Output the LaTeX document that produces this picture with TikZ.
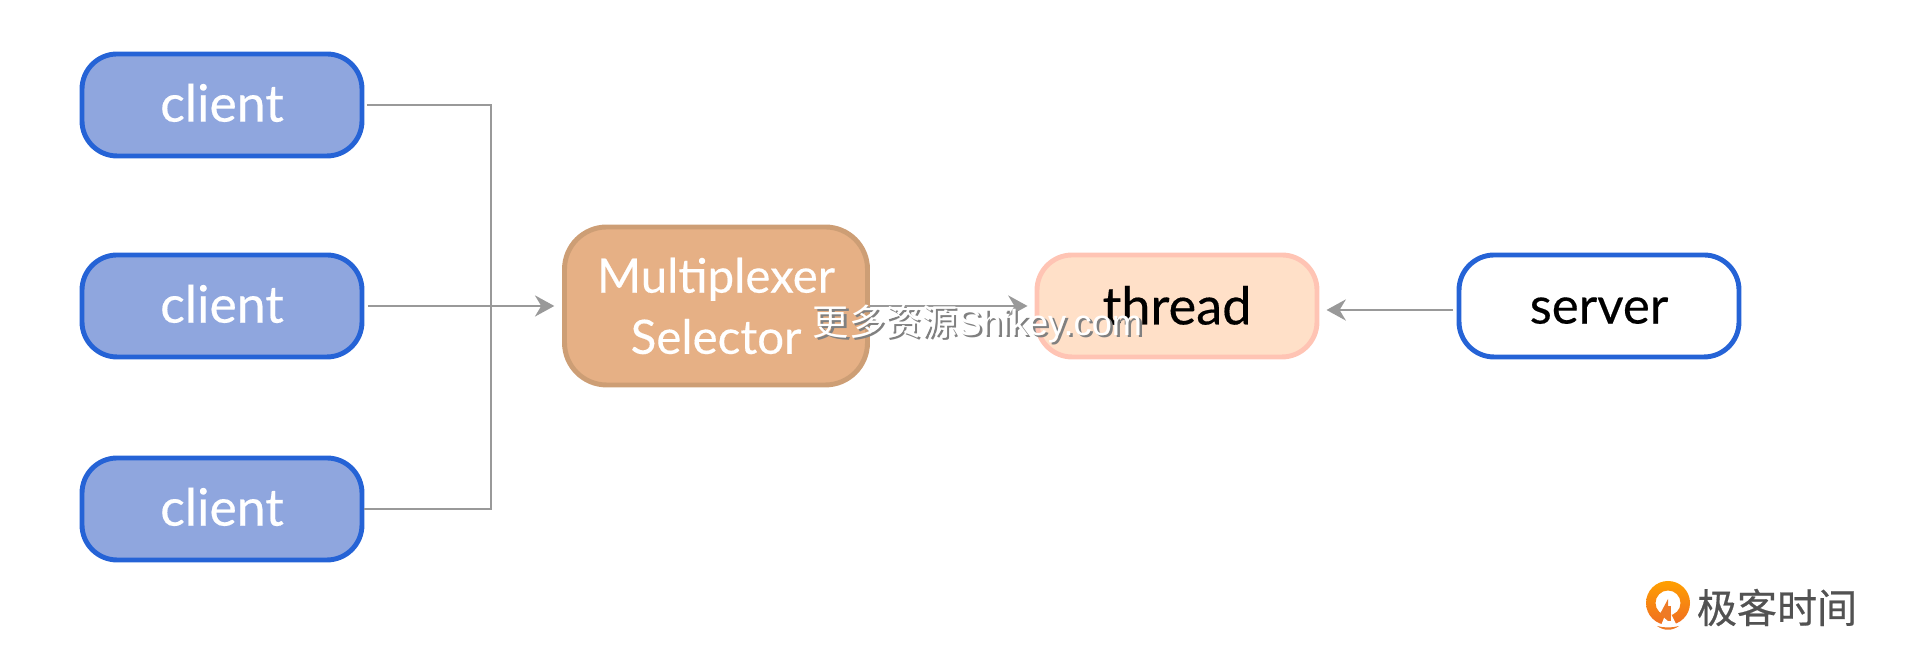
\documentclass[tikz,border=0pt]{standalone}
\usepackage{fontspec}
\setmainfont{Lato}
\newfontfamily\labelfont[FakeBold=0.3]{Lato}
\newfontfamily\cjkfont{Noto Sans CJK SC}
\newfontfamily\logofont[FakeBold=0.5]{Noto Sans CJK SC}
\newfontfamily\latinmark{Liberation Sans}
\usetikzlibrary{arrows.meta,positioning,calc}
\definecolor{clientblue}{HTML}{8FA6DE}
\definecolor{edgeblue}{HTML}{2563D6}
\definecolor{muxorange}{HTML}{E6B085}
\definecolor{muxedge}{HTML}{CD9E75}
\definecolor{threadpeach}{HTML}{FFE0C8}
\definecolor{threadedge}{HTML}{FFC4B4}
\definecolor{linkgray}{HTML}{999999}
\definecolor{logoorange}{HTML}{EE7A26}
\newcommand{\wmstring}{更多资源{\latinmark Shikey.com}}

\begin{document}
\begin{tikzpicture}[
  every node/.style={align=center},
  clientbox/.style={rectangle, rounded corners=10pt, draw=edgeblue, fill=clientblue,
                    line width=1.4pt, text=white, font=\labelfont\fontsize{14.7}{16}\selectfont,
                    minimum width=2.80cm, minimum height=1.02cm, inner sep=0pt,
                    text height=10.5pt, text depth=1pt},
  muxbox/.style={rectangle, rounded corners=12pt, draw=muxedge, fill=muxorange,
                 line width=1.4pt, text=white, font=\labelfont\fontsize{13.5}{17.4}\selectfont,
                 minimum width=3.03cm, minimum height=1.58cm, inner sep=0pt},
  threadbox/.style={rectangle, rounded corners=10pt, draw=threadedge, fill=threadpeach,
                    line width=1.4pt, text=black, font=\labelfont\fontsize{14.9}{16}\selectfont,
                    minimum width=2.80cm, minimum height=1.02cm, inner sep=0pt,
                    text height=11.5pt, text depth=1pt},
  serverbox/.style={rectangle, rounded corners=10pt, draw=edgeblue, fill=white,
                    line width=1.4pt, text=black, font=\labelfont\fontsize{14.5}{16}\selectfont,
                    minimum width=2.80cm, minimum height=1.02cm, inner sep=0pt,
                    text height=11pt, text depth=1pt},
  link/.style={draw=linkgray, line width=0.75pt},
  linkarrow/.style={link, -{Stealth[length=5.5pt,width=6pt]}},
  wmtext/.style={font=\cjkfont\fontsize{10.3}{12}\selectfont, text=white}
]
\useasboundingbox (0,0) rectangle (19.2,6.48);

% Clients
\node[clientbox] (client1) at (2.22, 5.43) {client};
\node[clientbox] (client2) at (2.22, 3.42) {client};
\node[clientbox] (client3) at (2.22, 1.39) {client};

% Middle and right
\node[muxbox]    (mux)    at (7.16, 3.42) {Multiplexer\\Selector};
\node[threadbox] (thread) at (11.77, 3.42) {thread};
\node[serverbox] (server) at (15.99, 3.42) {server};

% Bus on the left
\coordinate (bus) at (4.91, 3.42);

% Edges
\draw[link, shorten <=0.7pt] (client1.east) -| (bus) |- (client3.east);
\draw[linkarrow, shorten <=1pt, shorten >=2.2pt] (client2.east) -- (mux.west);
\draw[linkarrow, shorten >=2pt] (mux.east) -- (thread.west);
\draw[linkarrow, shorten <=1pt, shorten >=2pt] ($(server.west)+(0,-0.04)$) -- ($(thread.east)+(0,-0.04)$);

% Overprint
\node[wmtext] (wm) at (9.775, 3.23)
  {\makebox[0pt][l]{\hspace{0.7pt}\raisebox{-0.7pt}{\textcolor{black!50}{\wmstring}}}\wmstring};

% Logo
\path[even odd rule, top color=orange!75!yellow, bottom color=logoorange!90!red]
  (16.68, 0.45) circle (0.22) (16.68, 0.45) circle (0.125);
\fill[white] (16.68, 0.40) -- (16.60, 0.20) -- (16.78, 0.20) -- cycle;
\fill[logoorange] (16.68, 0.49) -- (16.68, 0.27) -- (16.60, 0.34) -- cycle;
\fill[logoorange] (16.71, 0.42) rectangle (16.675, 0.27);
\fill[logoorange] (16.57, 0.22) .. controls (16.64, 0.17) and (16.72, 0.17) .. (16.79, 0.22)
  .. controls (16.72, 0.20) and (16.64, 0.20) .. cycle;
\node[font=\logofont\fontsize{11.4}{13}\selectfont, text=black!68, inner sep=0pt] (logotext) at (17.77, 0.405) {极客时间};

\end{tikzpicture}
\end{document}
